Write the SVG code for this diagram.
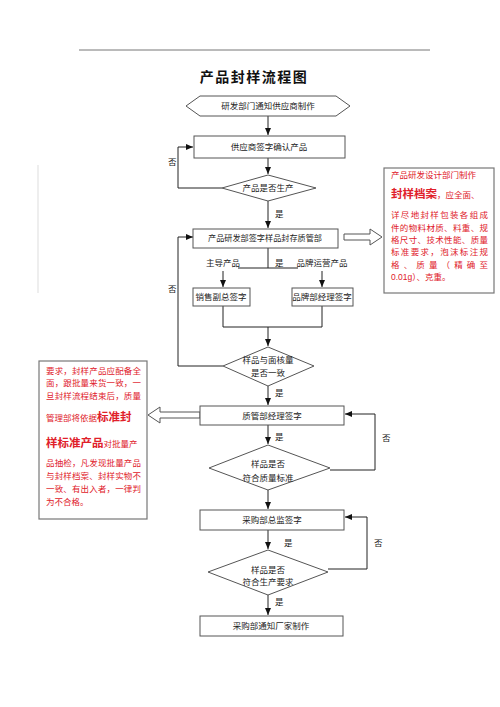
<svg xmlns="http://www.w3.org/2000/svg" width="500" height="707" viewBox="0 0 500 707">
<defs>
<marker id="ah" markerWidth="8" markerHeight="8" refX="7" refY="4" orient="auto" markerUnits="userSpaceOnUse">
<path d="M0,1 L7,4 L0,7 Z" fill="#111"/>
</marker>
<style>
.t{font-family:"Liberation Sans","Noto Sans CJK SC",sans-serif;font-size:8.5px;fill:#222;text-anchor:middle}
.lb{font-family:"Liberation Sans","Noto Sans CJK SC",sans-serif;font-size:8.5px;fill:#222}
.n{fill:#fff;stroke:#555;stroke-width:1}
.c{fill:none;stroke:#222;stroke-width:1}
.r{font-family:"Liberation Sans","Noto Sans CJK SC",sans-serif;font-size:8.5px;fill:#e0202a}
.rb{font-family:"Noto Sans CJK SC",sans-serif;font-size:11.5px;font-weight:bold;fill:#e0202a}
.note{fill:#fff;stroke:#777;stroke-width:1.2}
.ha{fill:#fff;stroke:#555;stroke-width:1}
</style>
</defs>
<rect width="500" height="707" fill="#fff"/>
<line x1="79" y1="50" x2="430" y2="50" stroke="#777" stroke-width="1"/>
<line x1="38" y1="165" x2="38" y2="293" stroke="#ddd" stroke-width="1"/>
<text x="254" y="82" style="font-family:'Noto Sans CJK SC',sans-serif;font-size:14px;font-weight:bold;fill:#111;text-anchor:middle;letter-spacing:1.5px">产品封样流程图</text>

<g id="connectors">
<line class="c" x1="268" y1="116" x2="268" y2="135" marker-end="url(#ah)"/>
<line class="c" x1="268" y1="158" x2="268" y2="174" marker-end="url(#ah)"/>
<polyline class="c" points="222,188 178,188 178,147 193,147" marker-end="url(#ah)"/>
<line class="c" x1="268" y1="201" x2="268" y2="228" marker-end="url(#ah)"/>
<polyline class="c" points="268,248 268,268"/>
<line class="c" x1="238" y1="268" x2="298" y2="268"/>
<line class="c" x1="223" y1="271" x2="223" y2="287" marker-end="url(#ah)"/>
<line class="c" x1="322" y1="271" x2="322" y2="287" marker-end="url(#ah)"/>
<polyline class="c" points="223,306 223,327 322,327 322,306"/>
<line class="c" x1="268" y1="327" x2="268" y2="346" marker-end="url(#ah)"/>
<polyline class="c" points="223,366 178,366 178,237 193,237" marker-end="url(#ah)"/>
<line class="c" x1="268" y1="386" x2="268" y2="405" marker-end="url(#ah)"/>
<line class="c" x1="268" y1="425" x2="268" y2="444" marker-end="url(#ah)"/>
<polyline class="c" points="330,470 375,470 375,414 345,414" marker-end="url(#ah)"/>
<line class="c" x1="268" y1="490" x2="268" y2="509" marker-end="url(#ah)"/>
<line class="c" x1="268" y1="530" x2="268" y2="549" marker-end="url(#ah)"/>
<polyline class="c" points="328,569 367,569 367,517 345,517" marker-end="url(#ah)"/>
<line class="c" x1="268" y1="595" x2="268" y2="615" marker-end="url(#ah)"/>
<path class="ha" d="M344,234 L370,234 L370,229 L382,237 L370,245 L370,240 L344,240 Z"/>
<path class="ha" d="M200,412 L160,412 L160,407 L148,415 L160,423 L160,418 L200,418 Z"/>
<text class="lb" x="168" y="165">否</text>
<text class="lb" x="275" y="217">是</text>
<text class="lb" x="275" y="266">是</text>
<text class="lb" x="168" y="292">否</text>
<text class="lb" x="275" y="396">是</text>
<text class="lb" x="275" y="440">是</text>
<text class="lb" x="382" y="441">否</text>
<text class="lb" x="284" y="546">是</text>
<text class="lb" x="374" y="546">否</text>
<text class="lb" x="275" y="605">是</text>
<text class="t" x="223" y="266">主导产品</text>
<text class="t" x="322" y="266">品牌运营产品</text>
</g>

<g id="n1"><polygon class="n" points="186,106 200,96 336,96 350,106 336,116 200,116"/><text class="t" x="268" y="109">研发部门通知供应商制作</text></g>
<g id="n2"><rect class="n" x="194" y="136" width="151" height="22"/><text class="t" x="269" y="150">供应商签字确认产品</text></g>
<g id="n3"><polygon class="n" points="268,175 316,188 268,201 222,188"/><text class="t" x="268" y="191">产品是否生产</text></g>
<g id="n4"><rect class="n" x="193" y="229" width="145" height="19"/><text class="lb" x="208" y="241" textLength="114" lengthAdjust="spacingAndGlyphs">产品研发部签字样品封存质管部</text></g>
<g id="n5"><rect class="n" x="193" y="288" width="57" height="18"/><text class="t" x="221" y="300">销售副总签字</text></g>
<g id="n6"><rect class="n" x="292" y="288" width="61" height="18"/><text class="t" x="322" y="300">品牌部经理签字</text></g>
<g id="n7"><polygon class="n" points="268,347 314,366 268,386 223,366"/><text class="t" x="268" y="363">样品与面核量</text><text class="t" x="268" y="376">是否一致</text></g>
<g id="n8"><rect class="n" x="200" y="406" width="144" height="19"/><text class="t" x="272" y="419">质管部经理签字</text></g>
<g id="n9"><polygon class="n" points="268,445 330,468 268,490 209,468"/><text class="t" x="268" y="467">样品是否</text><text class="t" x="268" y="481">符合质量标准</text></g>
<g id="n10"><rect class="n" x="200" y="510" width="144" height="20"/><text class="t" x="272" y="523">采购部总监签字</text></g>
<g id="n11"><polygon class="n" points="268,550 328,572 268,595 208,572"/><text class="t" x="268" y="573">样品是否</text><text class="t" x="268" y="585">符合生产要求</text></g>
<g id="n12"><rect class="n" x="200" y="616" width="143" height="20"/><text class="t" x="271" y="629">采购部通知厂家制作</text></g>

<g id="note-right">
<rect class="note" x="384" y="168" width="110" height="125"/>
<text class="r" x="391" y="178">产品研发设计部门制作</text>
<text x="391" y="198"><tspan class="rb">封样档案</tspan><tspan class="r">，应全面、</tspan></text>
<text class="r" x="391" y="218" textLength="97">详尽地封样包装各组成</text>
<text class="r" x="391" y="231" textLength="97">件的物料材质、料重、规</text>
<text class="r" x="391" y="243" textLength="97">格尺寸、技术性能、质量</text>
<text class="r" x="391" y="255" textLength="97">标准要求，泡沫标注规</text>
<text class="r" x="391" y="268" textLength="97">格、质量（精确至</text>
<text class="r" x="391" y="280">0.01g）、克重。</text>
</g>

<g id="note-left">
<rect class="note" x="39" y="361" width="108" height="158"/>
<text class="r" x="46" y="374" textLength="95">要求，封样产品应配备全</text>
<text class="r" x="46" y="386" textLength="95">面，跟批量来货一致，一</text>
<text class="r" x="46" y="399" textLength="95">旦封样流程结束后，质量</text>
<text x="46" y="421"><tspan class="r">管理部将依据</tspan><tspan class="rb">标准封</tspan></text>
<text x="46" y="447"><tspan class="rb">样标准产品</tspan><tspan class="r">对批量产</tspan></text>
<text class="r" x="46" y="466" textLength="95">品抽检，凡发现批量产品</text>
<text class="r" x="46" y="479" textLength="95">与封样档案、封样实物不</text>
<text class="r" x="46" y="492" textLength="95">一致、有出入者，一律判</text>
<text class="r" x="46" y="505">为不合格。</text>
</g>
</svg>
